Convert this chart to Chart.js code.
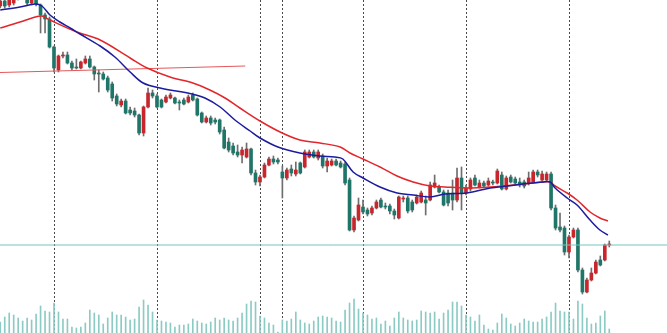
<!DOCTYPE html>
<html>
<head>
<meta charset="utf-8">
<script src="https://cdn.jsdelivr.net/npm/chart.js@4.4.1/dist/chart.umd.min.js"></script>
<style>
  html, body { margin: 0; padding: 0; background: #fff; }
  #chart { display: block; }
</style>
</head>
<body>
<canvas id="chart" width="667" height="333"></canvas>
<script>
// candles, one per bar
const opens = [1994,1999,1995,1997,2002,2008,2001,1997,2000,1995,1985,1981,1953,1930,1944,1945,1937,1933,1932,1937,
  1941,1933,1927,1926,1922,1916,1904,1895,1899,1890,1889,1885,1867,1893,1907,1904,1900,1898,1902,1902,
  1898,1900,1898,1905,1901,1887,1878,1882,1880,1880,1870,1858,1854,1848,1845,1843,1851,1827,1818,1823,
  1835,1841,1840,1828,1822,1831,1826,1837,1833,1843,1848,1842,1844,1834,1835,1839,1837,1836,1820,1770,
  1780,1793,1790,1787,1792,1800,1794,1794,1789,1782,1801,1802,1798,1797,1798,1800,1800,1813,1813,1808,
  1807,1807,1800,1822,1807,1811,1822,1813,1817,1815,1818,1817,1825,1811,1823,1821,1818,1818,1817,1818,
  1828,1820,1820,1826,1792,1773,1772,1748,1763,1770,1730,1708,1720,1727,1740,1740,1755];
const highs = [2002,2001,2003,2005,2010,2011,2003,2002,2002,1996,1987,1983,1954,1945,1948,1948,1939,1941,1939,1944,
  1944,1934,1930,1928,1924,1918,1906,1901,1901,1893,1892,1886,1894,1912,1910,1906,1901,1905,1907,1903,
  1900,1902,1905,1907,1902,1888,1884,1884,1882,1881,1873,1862,1857,1855,1853,1857,1852,1830,1825,1837,
  1843,1844,1842,1834,1832,1835,1838,1838,1850,1850,1850,1850,1846,1842,1841,1841,1839,1838,1822,1784,
  1802,1800,1792,1794,1800,1802,1797,1796,1791,1804,1804,1804,1800,1805,1809,1804,1818,1825,1815,1810,
  1810,1820,1832,1833,1815,1822,1825,1820,1819,1822,1820,1831,1828,1824,1825,1823,1822,1820,1828,1830,
  1830,1829,1828,1828,1795,1787,1774,1765,1772,1772,1732,1722,1732,1740,1744,1756,1759];
const lows = [1992,1992,1993,1995,2000,2001,1995,1995,1994,1967,1967,1952,1928,1928,1942,1936,1930,1931,1931,1936,
  1932,1920,1908,1920,1908,1899,1894,1893,1886,1885,1883,1865,1864,1892,1902,1892,1892,1897,1901,1896,
  1890,1895,1897,1899,1884,1877,1877,1875,1876,1866,1851,1848,1845,1843,1837,1842,1825,1815,1814,1822,
  1834,1836,1836,1802,1820,1824,1824,1826,1832,1842,1842,1840,1832,1828,1834,1834,1832,1815,1769,1768,
  1779,1786,1784,1785,1791,1792,1791,1786,1781,1781,1798,1787,1788,1796,1797,1785,1799,1812,1807,1794,
  1794,1790,1798,1790,1805,1809,1814,1812,1813,1814,1815,1816,1810,1810,1817,1816,1813,1812,1815,1817,
  1823,1819,1819,1790,1770,1768,1745,1742,1762,1728,1706,1707,1719,1726,1734,1739,1753];
const closes = [1999,1994,2000,2002,2008,2003,1997,2000,1996,1985,1981,1953,1932,1944,1945,1937,1932,1932,1938,1941,
  1933,1926,1926,1921,1910,1902,1896,1899,1887,1887,1885,1867,1893,1907,1904,1893,1893,1903,1905,1897,
  1897,1896,1903,1900,1885,1878,1882,1877,1878,1868,1852,1850,1847,1845,1850,1851,1827,1818,1823,1835,
  1841,1838,1838,1822,1830,1827,1830,1827,1848,1848,1843,1848,1834,1839,1839,1835,1833,1817,1770,1782,
  1795,1788,1786,1792,1798,1793,1793,1789,1785,1803,1802,1789,1790,1803,1807,1797,1815,1817,1808,1795,
  1797,1800,1822,1807,1812,1820,1815,1817,1814,1819,1817,1829,1811,1822,1818,1817,1815,1814,1822,1828,
  1825,1826,1826,1792,1772,1770,1748,1763,1770,1730,1708,1720,1727,1738,1735,1755,1756];
const volumes = [1100,1600,2000,1800,1500,1200,1500,1300,1900,2700,2200,2100,3000,2100,1400,1400,600,500,600,1000,
  2300,2000,1800,900,1500,2100,1800,1800,1600,1300,1400,2600,3300,2800,2100,1300,1200,1100,1000,600,
  800,800,900,1400,1200,1000,900,1100,1500,1300,1500,1300,1200,1500,2000,2900,3200,3100,1700,1500,
  1000,800,100,1300,1200,1400,2100,1300,1000,900,1200,1600,1700,1600,1500,1200,1100,2300,3000,3400,
  2400,2000,1800,1400,1500,900,1200,700,1500,2100,1500,1300,1200,1300,2200,2100,2000,2100,1400,2000,
  2300,3100,3100,2700,1800,1600,1200,1800,800,400,300,1000,1900,1500,900,700,1000,1400,1200,1100,
  1100,1400,1600,2100,3000,2200,2100,2100,1400,3200,2900,1500,900,1000,1700,2200,400];

// moving averages, read at bar positions
const maFastIdx = [0,4.4,7.8,9.3,11.1,13.3,15.6,17.8,22.3,25.6,29,31.9,35.7,42.8,45.7,49.1,52.4,55.8,58,62,
  66.9,71.4,74.7,76.5,78.8,81,84.8,88.6,92.2,96,99.3,104.2,109.4,113.2,116.7,121.2,122.8,123.9,126.6,128.8,
  131.7,133.9,135.7];
const maFastVal = [1990,1993,1996,1994,1985,1978,1972,1966,1954,1943,1928,1917,1912,1906,1902,1893,1880,1869,1862,1853,
  1847,1844,1843,1841,1828,1822,1813,1807,1805,1803,1806,1807,1812,1814,1816,1818,1818,1812,1802,1795,
  1780,1770,1765];
const maSlowIdx = [0,4.4,7.8,9.3,11.1,17.1,22.3,29,32.8,37.9,43,46.8,50.2,53.5,58,62.5,66.9,71.4,75.9,78.1,
  81,84.8,88.6,92.2,96,99.3,104.2,109.4,116.7,121.2,122.8,123.9,126.6,128.8,131.7,133.9,135.7];
const maSlowVal = [1972,1978,1983,1984,1980,1968,1960,1942,1932,1923,1917,1910,1902,1892,1879,1868,1860,1857,1853,1847,
  1841,1833,1824,1818,1814,1813,1812,1813,1816,1818,1818,1814,1807,1800,1788,1782,1779];

// hand-drawn trendline and last price level
const trendIdx = [-0.06, 54.7];
const trendVal = [1927.5, 1934];
const lastPrice = 1755;

// dotted session separators (bar index)
const sessionBreaks = [12, 35, 58, 63, 81, 104, 127];

const UP = '#c8252c';
const DOWN = '#1f7567';
const candleColors = closes.map((c, i) => (c >= opens[i] ? UP : DOWN));

const sessionPlugin = {
  id: 'sessions',
  beforeDatasetsDraw(chart) {
    const { ctx, chartArea, scales } = chart;
    ctx.save();
    ctx.strokeStyle = '#4a4a4a';
    ctx.lineWidth = 1;
    ctx.setLineDash([2, 2]);
    sessionBreaks.forEach(i => {
      const px = Math.round(scales.x.getPixelForValue(i)) + 0.5;
      ctx.beginPath();
      ctx.moveTo(px, chartArea.top);
      ctx.lineTo(px, chartArea.bottom);
      ctx.stroke();
    });
    ctx.restore();
  },
};

new Chart(document.getElementById('chart'), {
  type: 'bar',
  data: {
    datasets: [
      {
        type: 'line',
        data: maFastIdx.map((x, k) => ({ x, y: maFastVal[k] })),
        borderColor: '#1c1c9e',
        borderWidth: 1.5,
        pointRadius: 0,
        tension: 0.35,
        order: 0,
      },
      {
        type: 'line',
        data: maSlowIdx.map((x, k) => ({ x, y: maSlowVal[k] })),
        borderColor: '#e2272c',
        borderWidth: 1.5,
        pointRadius: 0,
        tension: 0.35,
        order: 0,
      },
      {
        type: 'line',
        data: trendIdx.map((x, k) => ({ x, y: trendVal[k] })),
        borderColor: '#e4585b',
        borderWidth: 1,
        pointRadius: 0,
        order: 0,
      },
      {
        type: 'line',
        data: [{ x: -1, y: lastPrice }, { x: 150, y: lastPrice }],
        borderColor: '#74c4be',
        borderWidth: 1,
        pointRadius: 0,
        order: 1,
      },
      {
        data: opens.map((o, i) => ({ x: i, y: [o, closes[i]] })),
        backgroundColor: candleColors,
        borderWidth: 0,
        barThickness: 3,
        grouped: false,
        order: 2,
      },
      {
        data: lows.map((l, i) => ({ x: i, y: [l, highs[i]] })),
        backgroundColor: '#6e6e6e',
        borderWidth: 0,
        barThickness: 1,
        grouped: false,
        order: 3,
      },
      {
        data: volumes.map((v, i) => ({ x: i, y: v })),
        yAxisID: 'vol',
        backgroundColor: '#8ccbc4',
        borderWidth: 0,
        barThickness: 1,
        grouped: false,
        order: 4,
      },
    ],
  },
  options: {
    responsive: false,
    animation: false,
    events: [],
    layout: { padding: 0 },
    plugins: {
      legend: { display: false },
      tooltip: { enabled: false },
    },
    scales: {
      x: { type: 'linear', min: -0.058, max: 148.89, offset: false, display: false },
      y: { min: 1667, max: 2000, display: false },
      vol: { min: 0, max: 33300, display: false },
    },
  },
  plugins: [sessionPlugin],
});
</script>
</body>
</html>
